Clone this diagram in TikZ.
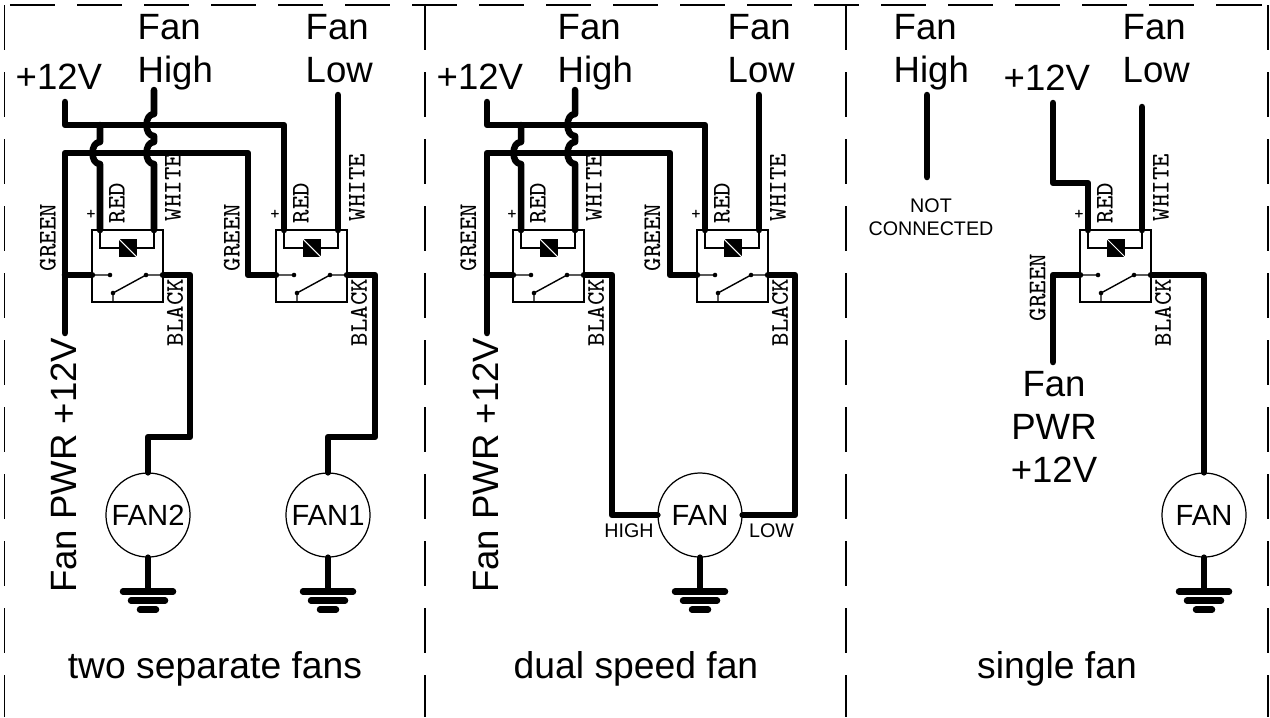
\documentclass[tikz,border=0pt]{standalone}
\usepackage{fontspec}
\setmainfont{Liberation Sans}
\usetikzlibrary{positioning}
\tikzset{
wire/.style={line width=1.85pt, line cap=round, line join=round}, % the heavy wires
box/.style={line width=0.4pt}, % relay outline and contacts
frame/.style={line width=0.35pt, dash pattern=on 12.8pt off 6.26pt}, % dashed panel frame
lbl/.style={inner sep=0pt, font=\fontsize{10.4}{12.2}\selectfont}, % terminal labels
title/.style={inner sep=0pt, font=\fontsize{10.6}{13}\selectfont}, % panel captions
note/.style={inner sep=0pt, font=\fontsize{5.6}{6.5}\selectfont}, % small notes
wirename/.style={inner sep=0pt, rotate=90, anchor=west, font=\ttfamily\fontsize{7.2}{8}\selectfont}, % wire colours
fan/.style={circle, draw, line width=0.35pt, minimum size=0.84cm, inner sep=0pt, font=\fontsize{8.3}{10}\selectfont},
relay/.pic={
  \draw[box] (0,0) rectangle (71,72);
  \draw[box] (8,0) |- (62,18) -- (62,0);
  \fill (27,9) rectangle (45,27);
  \draw[white, line width=0.3pt] (27,9) -- (45,27);
  \draw[box] (0,45) -- (18,45) (54,45) -- (71,45) (21,72) -- (21,63) -- (54,45);
  \fill (18,45) circle[radius=0.65pt] (54,45) circle[radius=0.65pt] (21,63) circle[radius=0.65pt];
  \node[inner sep=0pt, font=\ttfamily\fontsize{5}{6}\selectfont] at (-1,-15) {+};
  \node[wirename] at (25,-6) {RED};
  \node[wirename] at (81,-8) {WHITE};
  \node[wirename] at (83,117) {BLACK};
  \coordinate (-red) at (8,0);
  \coordinate (-white) at (62,0);
  \coordinate (-com) at (0,45);
  \coordinate (-no) at (71,45);
},
ground/.pic={
  \draw[wire] (0,0) -- (0,34);
  \draw[wire] (-25,34) -- (25,34) (-17,43) -- (17,43) (-8,52) -- (8,52);
},
}
% a wire jumping over a crossing wire
\newcommand{\hop}[2]{-- (#1,#2-11) .. controls (#1-10,#2-11) and (#1-10,#2+11) .. (#1,#2+11)}

\begin{document}
\begin{tikzpicture}[x=0.01cm, y=-0.01cm]
\useasboundingbox (0,0) rectangle (1270,717);
\draw[frame, dash phase=17.5pt] (4.5,5) -- (1268,5);
\foreach \x in {4.5, 425, 846, 1268}
  \draw[frame] (\x,5) -- (\x,717);

% two separate fans
\pic (r1) at (92,230) {relay};
\pic (r2) at (276,230) {relay};
\node[lbl, anchor=base west] (p1-v12) at (15,89) {+12V};
\node[lbl, align=left, anchor=north west] (p1-hi) at (137,14) {Fan\\High};
\node[lbl, align=left, anchor=north west] (p1-lo) at (305,14) {Fan\\Low};
\node[lbl, rotate=90, anchor=east] (p1-pwr) at (64,337) {Fan PWR +12V};
\node[wirename] (p1-g1) at (48,272) {GREEN};
\node[wirename] (p1-g2) at (232,272) {GREEN};
\node[fan] (fan2) at (148,515) {FAN2};
\node[fan] (fan1) at (328,515) {FAN1};
\coordinate (w1-v12) at (65,102);
\coordinate (w1-bus) at (65,125);
\coordinate (w1-pwr) at (65,333);
\coordinate (w1-top) at (65,153);
\coordinate (w1-turn) at (248,275);
\coordinate (w1-hi) at (154,90);
\coordinate (w1-lo) at (338,95);
\coordinate (w1-k2) at (190,437);
\coordinate (w1-k1) at (375,437);
\draw[wire] (w1-v12) -- (w1-bus) -| (r2-red);
\draw[wire] (r1-red |- w1-bus) \hop{100}{153} -- (r1-red);
\draw[wire] (w1-hi) \hop{154}{125} \hop{154}{153} -- (r1-white);
\draw[wire] (w1-lo) -- (r2-white);
\draw[wire] (w1-pwr) -- (w1-top) -| (w1-turn) -- (r2-com);
\draw[wire] (r1-com) -- (r1-com -| w1-pwr);
\draw[wire] (r1-no) -| (w1-k2) -| (fan2.north);
\draw[wire] (r2-no) -| (w1-k1) -| (fan1.north);
\pic at (fan2.south) {ground};
\pic at (fan1.south) {ground};
\node[title, anchor=base] (t1) at (215,678) {two separate fans};

% dual speed fan
\pic (r3) at (513,230) {relay};
\pic (r4) at (697,230) {relay};
\node[lbl, anchor=base west] (p2-v12) at (436,89) {+12V};
\node[lbl, align=left, anchor=north west] (p2-hi) at (557,14) {Fan\\High};
\node[lbl, align=left, anchor=north west] (p2-lo) at (727,14) {Fan\\Low};
\node[lbl, rotate=90, anchor=east] (p2-pwr) at (486,337) {Fan PWR +12V};
\node[wirename] (p2-g1) at (468.5,272) {GREEN};
\node[wirename] (p2-g2) at (652.5,272) {GREEN};
\node[fan] (fanhl) at (700,515) {FAN};
\node[note, anchor=base] (p2-high) at (629,537) {HIGH};
\node[note, anchor=base] (p2-low) at (771.5,537) {LOW};
\coordinate (w2-v12) at (487,102);
\coordinate (w2-bus) at (487,125);
\coordinate (w2-pwr) at (487,333);
\coordinate (w2-top) at (487,153);
\coordinate (w2-turn) at (670,275);
\coordinate (w2-hi) at (575,90);
\coordinate (w2-lo) at (759,95);
\coordinate (w2-h) at (612,275);
\coordinate (w2-l) at (795,275);
\draw[wire] (w2-v12) -- (w2-bus) -| (r4-red);
\draw[wire] (r3-red |- w2-bus) \hop{521}{153} -- (r3-red);
\draw[wire] (w2-hi) \hop{575}{125} \hop{575}{153} -- (r3-white);
\draw[wire] (w2-lo) -- (r4-white);
\draw[wire] (w2-pwr) -- (w2-top) -| (w2-turn) -- (r4-com);
\draw[wire] (r3-com) -- (r3-com -| w2-pwr);
\draw[wire] (r3-no) -- (w2-h) |- (fanhl.west);
\draw[wire] (r4-no) -- (w2-l) |- (fanhl.east);
\pic at (fanhl.south) {ground};
\node[title, anchor=base] (t2) at (636,678) {dual speed fan};

% single fan
\pic (r5) at (1080,230) {relay};
\node[lbl, align=left, anchor=north west] (p3-hi) at (893,14) {Fan\\High};
\node[lbl, anchor=base west] (p3-v12) at (1003,90) {+12V};
\node[lbl, align=left, anchor=north west] (p3-lo) at (1122,14) {Fan\\Low};
\node[note, align=center, anchor=north] (p3-nc) at (931,198) {NOT\\CONNECTED};
\node[lbl, align=center, anchor=north] (p3-pwr) at (1054,371) {Fan\\PWR\\+12V};
\node[wirename] (p3-g) at (1037.5,322) {GREEN};
\node[fan] (fansg) at (1204,515) {FAN};
\coordinate (w3-hi) at (927,95);
\coordinate (w3-nc) at (927,177);
\coordinate (w3-v12) at (1053,103);
\coordinate (w3-jog) at (1053,183);
\coordinate (w3-lo) at (1142,107);
\coordinate (w3-pwr) at (1053,362);
\draw[wire] (w3-hi) -- (w3-nc);
\draw[wire] (w3-v12) -- (w3-jog) -| (r5-red);
\draw[wire] (w3-lo) -- (r5-white);
\draw[wire] (r5-com) -| (w3-pwr);
\draw[wire] (r5-no) -| (fansg.north);
\pic at (fansg.south) {ground};
\node[title, anchor=base] (t3) at (1057,678) {single fan};
\end{tikzpicture}
\end{document}
